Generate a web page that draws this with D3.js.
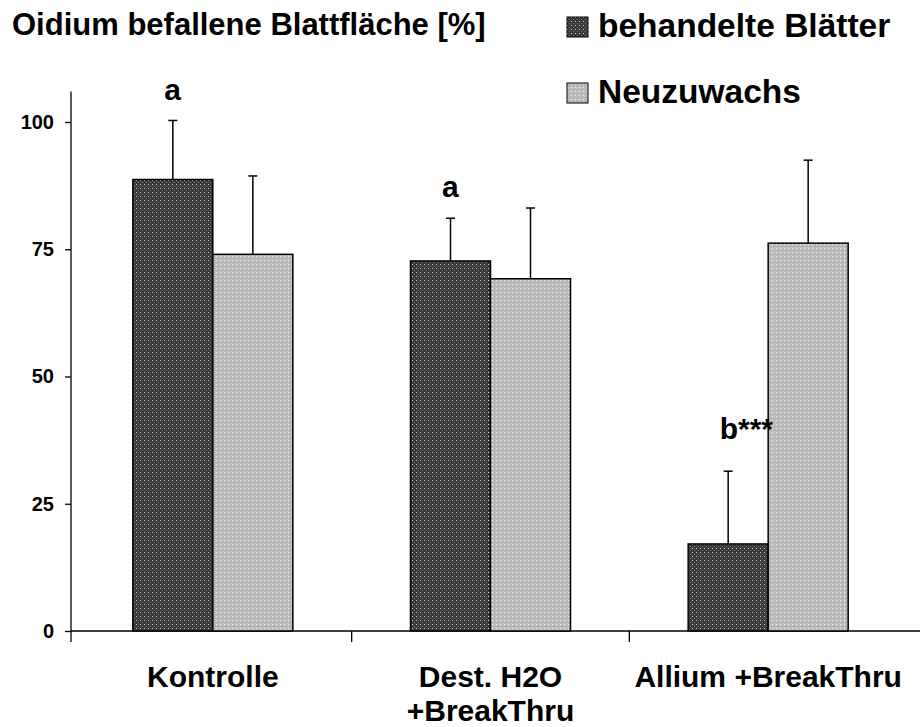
<!DOCTYPE html>
<html>
<head>
<meta charset="utf-8">
<script src="https://cdn.jsdelivr.net/npm/d3@7"></script>
<style>
  body { margin: 0; background: #fff; }
  text { font-family: "Liberation Sans", Arial, sans-serif; font-weight: bold; fill: #000; }
</style>
</head>
<body>
<div id="chart"></div>
<script>
// data
const categories = ["Kontrolle", "Dest. H2O\n+BreakThru", "Allium +BreakThru"];
const seriesNames = ["behandelte Blätter", "Neuzuwachs"];
const treatedValues = [88.7, 72.7, 17.1];
const treatedErrors = [11.6, 8.4, 14.3];
const newGrowthValues = [74.0, 69.2, 76.2];
const newGrowthErrors = [15.4, 13.9, 16.3];
const sigLabels = ["a", "a", "b***"];
const sigLevels = [104.3, 85.3, 37.7];   // label baseline, in % units
const yTicks = [0, 25, 50, 75, 100];

const W = 920, H = 727;

const svg = d3.select("#chart")
    .append("svg")
    .attr("width", W)
    .attr("height", H);

// patterns that mimic the old excel fills
const defs = svg.append("defs");
function makePattern(id, base, dot1, dot2) {
    const p = defs.append("pattern")
        .attr("id", id)
        .attr("patternUnits", "userSpaceOnUse")
        .attr("width", 4).attr("height", 4);
    p.append("rect").attr("width", 4).attr("height", 4).attr("fill", base);
    p.append("rect").attr("x", 0).attr("y", 0).attr("width", 1).attr("height", 1).attr("fill", dot1);
    p.append("rect").attr("x", 2).attr("y", 2).attr("width", 1).attr("height", 1).attr("fill", dot2);
}
makePattern("patDark", "#3a3a3a", "#d0d0d0", "#7a7a7a");
makePattern("patLight", "#bdbdbd", "#f2f2f2", "#a0a0a0");
const fills = ["url(#patDark)", "url(#patLight)"];

const y = d3.scaleLinear().domain([0, 100]).range([631, 122]);
const x0 = d3.scaleBand().domain(categories).range([74, 907]);
const x1 = d3.scaleBand().domain(seriesNames).range([0, 160]);
const groupOff = (x0.bandwidth() - 160) / 2;

const axisX = 71;

// y axis
const yAxis = svg.append("g")
    .attr("transform", `translate(${axisX},0)`)
    .call(d3.axisLeft(y).tickValues(yTicks).tickSize(6).tickPadding(11));
yAxis.select(".domain").remove();
yAxis.selectAll("line").attr("stroke", "#000").attr("stroke-width", 1.3);
yAxis.selectAll("text")
    .style("font-size", "20px")
    .style("font-family", '"Liberation Sans", Arial, sans-serif')
    .style("font-weight", "bold");

svg.append("line")
    .attr("x1", axisX).attr("x2", axisX)
    .attr("y1", y(106)).attr("y2", y(0) + 11)
    .attr("stroke", "#000").attr("stroke-width", 1.3);

// x axis
svg.append("line")
    .attr("x1", axisX).attr("x2", W)
    .attr("y1", y(0)).attr("y2", y(0))
    .attr("stroke", "#000").attr("stroke-width", 1.5);

svg.selectAll(".cattick")
    .data(categories.slice(1))
    .join("line")
    .attr("class", "cattick")
    .attr("x1", d => x0(d)).attr("x2", d => x0(d))
    .attr("y1", y(0)).attr("y2", y(0) + 11)
    .attr("stroke", "#000").attr("stroke-width", 1.3);

// category labels
svg.selectAll(".catlabel")
    .data(categories)
    .join("text")
    .attr("class", "catlabel")
    .attr("text-anchor", "middle")
    .style("font-size", "30px")
    .attr("x", d => x0(d) + x0.bandwidth() / 2)
    .attr("y", 687)
    .selectAll("tspan")
    .data(d => d.split("\n").map(t => ({t, c: d})))
    .join("tspan")
    .attr("x", d => x0(d.c) + x0.bandwidth() / 2)
    .attr("dy", (d, i) => i === 0 ? 0 : 34)
    .text(d => d.t);

// bars
const series = [
    {name: seriesNames[0], values: treatedValues, errors: treatedErrors, fill: fills[0]},
    {name: seriesNames[1], values: newGrowthValues, errors: newGrowthErrors, fill: fills[1]}
];

const bars = [];
series.forEach(s => {
    categories.forEach((c, i) => {
        bars.push({cat: c, name: s.name, value: s.values[i], err: s.errors[i], fill: s.fill});
    });
});

const bx = d => x0(d.cat) + groupOff + x1(d.name);

// error bars (up only), drawn first so the bar outline sits on top
const eb = svg.append("g").attr("class", "errorbars");
eb.selectAll("line.stem")
    .data(bars)
    .join("line")
    .attr("class", "stem")
    .attr("x1", d => bx(d) + x1.bandwidth() / 2)
    .attr("x2", d => bx(d) + x1.bandwidth() / 2)
    .attr("y1", d => y(d.value))
    .attr("y2", d => y(d.value + d.err))
    .attr("stroke", "#000").attr("stroke-width", 1.5);
eb.selectAll("line.cap")
    .data(bars)
    .join("line")
    .attr("class", "cap")
    .attr("x1", d => bx(d) + x1.bandwidth() / 2 - 4.5)
    .attr("x2", d => bx(d) + x1.bandwidth() / 2 + 4.5)
    .attr("y1", d => y(d.value + d.err))
    .attr("y2", d => y(d.value + d.err))
    .attr("stroke", "#000").attr("stroke-width", 1.5);

svg.append("g").attr("class", "bars")
    .selectAll("rect")
    .data(bars)
    .join("rect")
    .attr("x", bx)
    .attr("y", d => y(d.value))
    .attr("width", x1.bandwidth())
    .attr("height", d => y(0) - y(d.value))
    .attr("fill", d => d.fill)
    .attr("stroke", "#000")
    .attr("stroke-width", 1.5);

// significance letters, centred on the treated bar (the stars trail after)
svg.selectAll(".sig")
    .data(categories)
    .join("text")
    .attr("class", "sig")
    .style("font-size", "30px")
    .attr("x", (c) => x0(c) + groupOff + x1(seriesNames[0]) + x1.bandwidth() / 2 - 8.5)
    .attr("y", (c, i) => y(sigLevels[i]))
    .text((c, i) => sigLabels[i]);

// title
svg.append("text")
    .attr("x", 12).attr("y", 35)
    .style("font-size", "31px")
    .text("Oidium befallene Blattfläche [%]");

// legend
const legend = svg.append("g").attr("class", "legend");
const lg = legend.selectAll("g")
    .data(series)
    .join("g")
    .attr("transform", (d, i) => `translate(567,${17 + i * 66})`);
lg.append("rect")
    .attr("width", 21).attr("height", 20)
    .attr("fill", d => d.fill)
    .attr("stroke", "#000").attr("stroke-width", 1);
lg.append("text")
    .attr("x", 31).attr("y", 20)
    .style("font-size", "33.5px")
    .text(d => d.name);
</script>
</body>
</html>
